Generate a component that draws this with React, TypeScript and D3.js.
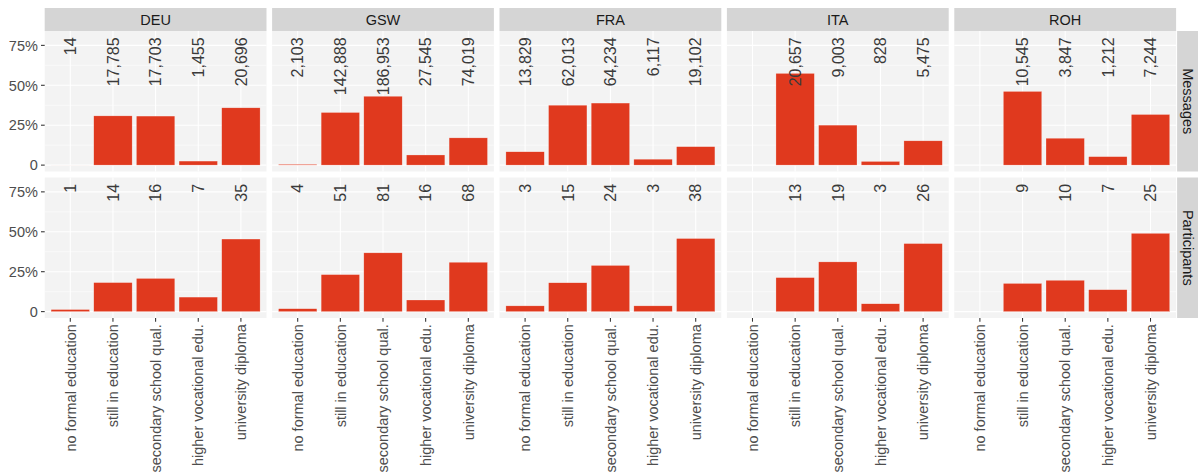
import React from "react";
import * as d3 from "d3";

// Education levels on the x axis of every panel
const levels = [
  "no formal education",
  "still in education",
  "secondary school qual.",
  "higher vocational edu.",
  "university diploma",
];

const countries = ["DEU", "GSW", "FRA", "ITA", "ROH"];
const measures = ["Messages", "Participants"];

// Message counts per education level
const messagesDEU = [14, 17785, 17703, 1455, 20696];
const messagesGSW = [2103, 142888, 186953, 27545, 74019];
const messagesFRA = [13829, 62013, 64234, 6117, 19102];
const messagesITA = [null, 20657, 9003, 828, 5475];
const messagesROH = [null, 10545, 3847, 1212, 7244];

// Participant counts per education level
const participantsDEU = [1, 14, 16, 7, 35];
const participantsGSW = [4, 51, 81, 16, 68];
const participantsFRA = [3, 15, 24, 3, 38];
const participantsITA = [null, 13, 19, 3, 26];
const participantsROH = [null, 9, 10, 7, 25];

// Participant totals per country (DEU includes people without a reported level)
const participantTotals = [77, 220, 83, 61, 51];

const yTicks = [0, 0.25, 0.5, 0.75];
const yMinor = [0.125, 0.375, 0.625];

const messageRows = [messagesDEU, messagesGSW, messagesFRA, messagesITA, messagesROH];
const participantRows = [participantsDEU, participantsGSW, participantsFRA, participantsITA, participantsROH];

const W = 1198;
const H = 475;
const FONT = "'Liberation Sans', Arial, Helvetica, sans-serif";
const BAR = "#E0391E";
const PANEL_BG = "#F3F3F3";
const STRIP_BG = "#D5D5D5";

const left0 = 44.7;
const panelW = 221.8;
const gapX = 5.6;
const stripTop = 8;
const stripH = 23;
const rowTops = [31, 177.5];
const panelH = 140.5;

const fmt = d3.format(",");
const pctLabel = (v: number) => (v === 0 ? "0" : d3.format(".0%")(v));

export default function App() {
  const x = d3
    .scalePoint<string>()
    .domain(levels)
    .range([0, panelW])
    .padding(0.6);
  const unit = x.step();
  const barW = unit * 0.9;

  const panels: React.ReactNode[] = [];

  measures.forEach((measure, r) => {
    const top = rowTops[r];
    const y = d3.scaleLinear().domain([-0.04, 0.84]).range([top + panelH, top]);
    countries.forEach((country, c) => {
      const px = left0 + c * (panelW + gapX);
      const counts = r === 0 ? messageRows[c] : participantRows[c];
      const total =
        r === 0
          ? d3.sum(counts.filter((v) => v != null) as number[])
          : participantTotals[c];
      panels.push(
        <g key={`${measure}-${country}`} transform={`translate(${px},0)`}>
          <rect x={0} y={top} width={panelW} height={panelH} fill={PANEL_BG} />
          {yMinor.map((t) => (
            <line key={`mi${t}`} x1={0} x2={panelW} y1={y(t)} y2={y(t)} stroke="#fff" strokeWidth={0.55} />
          ))}
          {yTicks.map((t) => (
            <line key={`ma${t}`} x1={0} x2={panelW} y1={y(t)} y2={y(t)} stroke="#fff" strokeWidth={1.07} />
          ))}
          {levels.map((l) => (
            <line key={`vx${l}`} x1={x(l)!} x2={x(l)!} y1={top} y2={top + panelH} stroke="#fff" strokeWidth={1.07} />
          ))}
          {levels.map((l, i) => {
            const v = counts[i];
            if (v == null) return null;
            const share = v / total;
            return (
              <rect
                key={`b${l}`}
                x={x(l)! - barW / 2}
                y={y(share)}
                width={barW}
                height={y(0) - y(share)}
                fill={BAR}
                stroke="#fff"
                strokeOpacity={0.5}
                strokeWidth={0.5}
              />
            );
          })}
          {levels.map((l, i) => {
            const v = counts[i];
            if (v == null) return null;
            const ax = x(l)!;
            const ay = y(0.8);
            return (
              <text
                key={`t${l}`}
                transform={`translate(${ax},${ay}) rotate(-90)`}
                textAnchor="end"
                dy="0.36em"
                fontSize={16}
                fill="#3a3a3a"
                fontFamily={FONT}
              >
                {fmt(v)}
              </text>
            );
          })}
        </g>
      );
    });
  });

  // y axes on the left column
  const yAxes = measures.map((m, r) => {
    const top = rowTops[r];
    const y = d3.scaleLinear().domain([-0.04, 0.84]).range([top + panelH, top]);
    return (
      <g key={`ya${m}`}>
        {yTicks.map((t) => (
          <g key={t}>
            <line x1={left0 - 3.7} x2={left0} y1={y(t)} y2={y(t)} stroke="#333" strokeWidth={1.07} />
            <text
              x={left0 - 6.8}
              y={y(t)}
              dy="0.36em"
              textAnchor="end"
              fontSize={14.5}
              fill="#4D4D4D"
              fontFamily={FONT}
            >
              {pctLabel(t)}
            </text>
          </g>
        ))}
      </g>
    );
  });

  // strips along the top
  const topStrips = countries.map((country, c) => {
    const px = left0 + c * (panelW + gapX);
    return (
      <g key={`s${country}`}>
        <rect x={px} y={stripTop} width={panelW} height={stripH} fill={STRIP_BG} />
        <text
          x={px + panelW / 2}
          y={stripTop + stripH / 2}
          dy="0.36em"
          textAnchor="middle"
          fontSize={14.5}
          fill="#1A1A1A"
          fontFamily={FONT}
        >
          {country}
        </text>
      </g>
    );
  });

  const rightX = left0 + 5 * panelW + 4 * gapX + 1;
  const rightStrips = measures.map((m, r) => {
    const top = rowTops[r];
    return (
      <g key={`rs${m}`}>
        <rect x={rightX} y={top} width={stripH} height={panelH} fill={STRIP_BG} />
        <text
          transform={`translate(${rightX + stripH / 2},${top + panelH / 2}) rotate(90)`}
          dy="0.36em"
          textAnchor="middle"
          fontSize={14.5}
          fill="#1A1A1A"
          fontFamily={FONT}
        >
          {m}
        </text>
      </g>
    );
  });

  // x axis along the bottom row
  const bottom = rowTops[1] + panelH;
  const xAxes = countries.map((country, c) => {
    const px = left0 + c * (panelW + gapX);
    return (
      <g key={`xa${country}`} transform={`translate(${px},0)`}>
        {levels.map((l) => (
          <g key={l}>
            <line x1={x(l)!} x2={x(l)!} y1={bottom} y2={bottom + 3.7} stroke="#333" strokeWidth={1.07} />
            <text
              transform={`translate(${x(l)!},${bottom + 6.2}) rotate(-90)`}
              textAnchor="end"
              dy="0.36em"
              fontSize={14.5}
              fill="#4D4D4D"
              fontFamily={FONT}
            >
              {l}
            </text>
          </g>
        ))}
      </g>
    );
  });

  return (
    <svg
      width={W}
      height={H}
      style={{ position: "absolute", left: 0, top: 0, background: "#fff" }}
    >
      <rect width={W} height={H} fill="#fff" />
      {panels}
      {yAxes}
      {topStrips}
      {rightStrips}
      {xAxes}
    </svg>
  );
}
